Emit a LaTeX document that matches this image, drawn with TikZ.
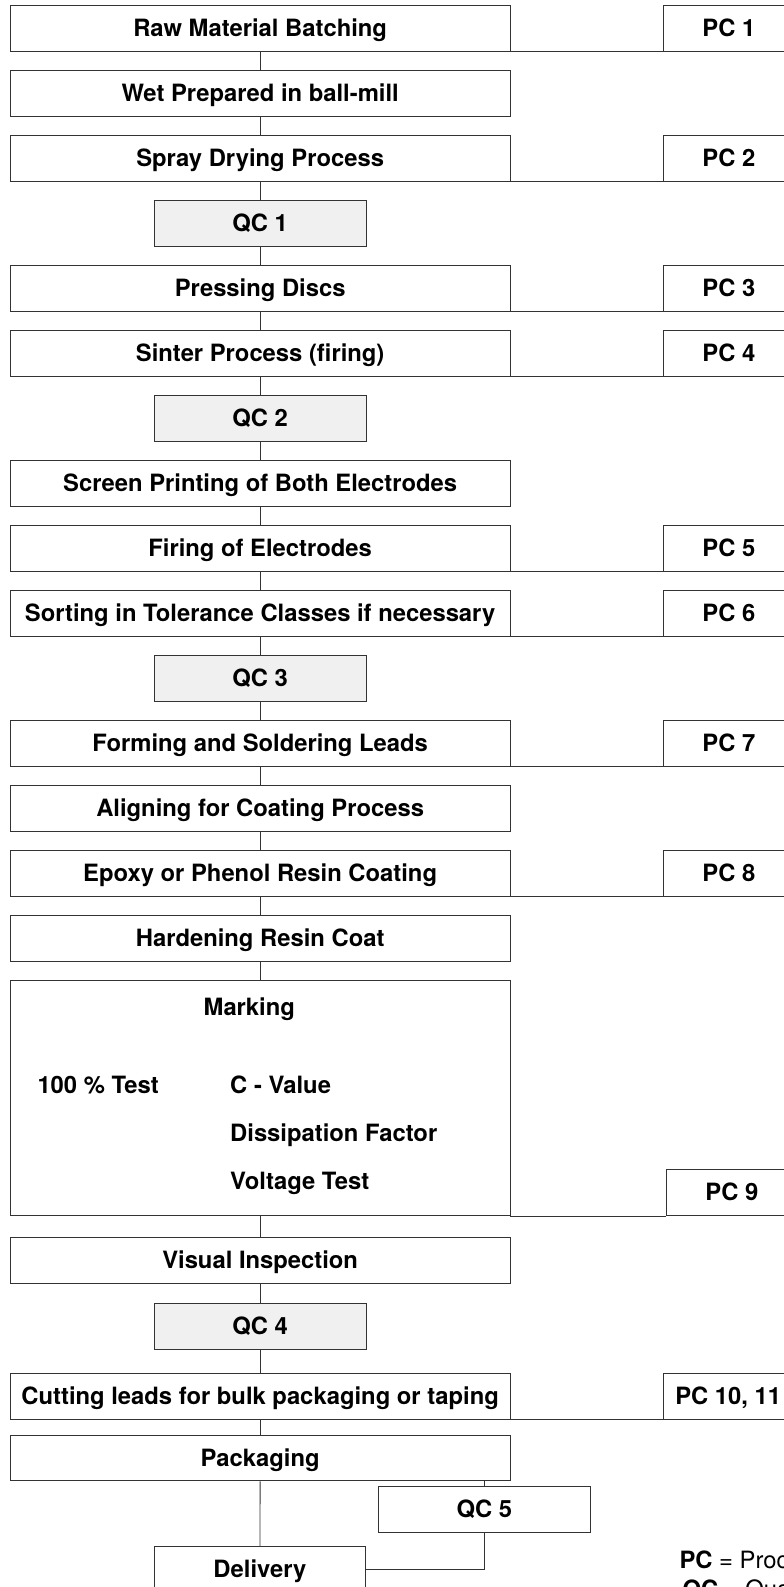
\documentclass[tikz,border=0pt]{standalone}
\usepackage{fontspec}
\setmainfont{TeX Gyre Heros}
\usetikzlibrary{positioning}

\tikzset{
	mainbox/.style={draw=black!80, line width=0.9pt, minimum width=499.7pt, minimum height=45.7pt, inner sep=0pt, text height=17pt, text depth=0.5pt, font=\bfseries\fontsize{23.8}{28}\selectfont},
	smallbox/.style={mainbox, minimum width=211.7pt},
	qcbox/.style={smallbox, fill=black!6},
	pcbox/.style={mainbox, minimum width=130pt},
	txt/.style={inner sep=0pt, font=\bfseries\fontsize{23.8}{28}\selectfont},
	line/.style={draw=black!80, line width=0.9pt}
}

\begin{document}
\begin{tikzpicture}[x=1pt, y=1pt, node distance=18.4pt]
	\useasboundingbox (0,0) rectangle (784,-1587);
	\clip (0,0) rectangle (784,-1587);
	% process chain
	\node[mainbox] (raw) at (260.15,-28.55) {Raw Material Batching};
	\node[mainbox] (wet) [below=of raw] {Wet Prepared in ball-mill};
	\node[mainbox] (spray) [below=of wet] {Spray Drying Process};
	\node[qcbox] (qc1) [below=of spray] {QC 1};
	\node[mainbox] (press) [below=of qc1] {Pressing Discs};
	\node[mainbox] (sinter) [below=of press] {Sinter Process (firing)};
	\node[qcbox] (qc2) [below=of sinter] {QC 2};
	\node[mainbox] (screen) [below=of qc2] {Screen Printing of Both Electrodes};
	\node[mainbox] (firing) [below=of screen] {Firing of Electrodes};
	\node[mainbox] (sort) [below=of firing] {Sorting in Tolerance Classes if necessary};
	\node[qcbox] (qc3) [below=of sort] {QC 3};
	\node[mainbox] (form) [below=of qc3] {Forming and Soldering Leads};
	\node[mainbox] (align) [below=of form] {Aligning for Coating Process};
	\node[mainbox] (epoxy) [below=of align] {Epoxy or Phenol Resin Coating};
	\node[mainbox] (hard) [below=of epoxy] {Hardening Resin Coat};
	\node[mainbox, minimum height=234.8pt] (mark) [below=of hard] {};
	\node[txt, anchor=base] (marktxt) at (249.3,-1015) {Marking};
	\node[txt, anchor=base west] (test) at (37.3,-1093.3) {100 \% Test};
	\node[txt, anchor=base west] (cval) at (230,-1093.3) {C - Value};
	\node[txt, anchor=base west] (diss) at (230,-1141.7) {Dissipation Factor};
	\node[txt, anchor=base west] (volt) at (230,-1189.3) {Voltage Test};
	\node[mainbox] (vis) [below=21.3pt of mark] {Visual Inspection};
	\node[qcbox] (qc4) [below=19.3pt of vis] {QC 4};
	\node[mainbox] (cut) [below=23.3pt of qc4] {Cutting leads for bulk packaging or taping};
	\node[mainbox] (pack) [below=15pt of cut] {Packaging};
	\node[smallbox, anchor=north] (qc5) at (484.3,-1486) {QC 5};
	\node[smallbox, anchor=north] (deliv) at (259.9,-1546) {Delivery};
	% process controls
	\node[pcbox] (pc1) [right=153pt of raw] {PC 1};
	\node[pcbox] (pc2) [right=153pt of spray] {PC 2};
	\node[pcbox] (pc3) [right=153pt of press] {PC 3};
	\node[pcbox] (pc4) [right=153pt of sinter] {PC 4};
	\node[pcbox] (pc5) [right=153pt of firing] {PC 5};
	\node[pcbox] (pc6) [right=153pt of sort] {PC 6};
	\node[pcbox] (pc7) [right=153pt of form] {PC 7};
	\node[pcbox] (pc8) [right=153pt of epoxy] {PC 8};
	\node[pcbox, anchor=south west] (pc9) at ([xshift=156pt]mark.south east) {PC 9};
	\node[pcbox] (pc10) [right=152.3pt of cut] {PC 10, 11};
	% legend
	\node[inner sep=0pt, anchor=base west, font=\fontsize{23.8}{28}\selectfont] (pclegend) at (679.3,-1568.3) {\textbf{PC} = Process Control};
	\node[inner sep=0pt, anchor=base west, font=\fontsize{23.8}{28}\selectfont] (qclegend) at (682.3,-1597) {\textbf{QC} = Quality Control};
	% chain connectors
	\draw[line] (raw) -- (wet);
	\draw[line] (wet) -- (spray);
	\draw[line] (spray) -- (qc1);
	\draw[line] (qc1) -- (press);
	\draw[line] (press) -- (sinter);
	\draw[line] (sinter) -- (qc2);
	\draw[line] (qc2) -- (screen);
	\draw[line] (screen) -- (firing);
	\draw[line] (firing) -- (sort);
	\draw[line] (sort) -- (qc3);
	\draw[line] (qc3) -- (form);
	\draw[line] (form) -- (align);
	\draw[line] (align) -- (epoxy);
	\draw[line] (epoxy) -- (hard);
	\draw[line] (hard) -- (mark);
	\draw[line] (mark) -- (vis);
	\draw[line] (vis) -- (qc4);
	\draw[line] (qc4) -- (cut);
	\draw[line] (cut) -- (pack);
	\draw[line] (pack) -- (deliv);
	\draw[line] (pack.south -| qc5.north) -- (qc5.north);
	\draw[line] (qc5.south) |- (deliv.east);
	% to the process controls
	\draw[line] (raw.south east) -- (pc1.south west);
	\draw[line] (spray.south east) -- (pc2.south west);
	\draw[line] (press.south east) -- (pc3.south west);
	\draw[line] (sinter.south east) -- (pc4.south west);
	\draw[line] (firing.south east) -- (pc5.south west);
	\draw[line] (sort.south east) -- (pc6.south west);
	\draw[line] (form.south east) -- (pc7.south west);
	\draw[line] (epoxy.south east) -- (pc8.south west);
	\draw[line] (mark.south east) -- (pc9.south west);
	\draw[line] (cut.south east) -- (pc10.south west);
\end{tikzpicture}
\end{document}
